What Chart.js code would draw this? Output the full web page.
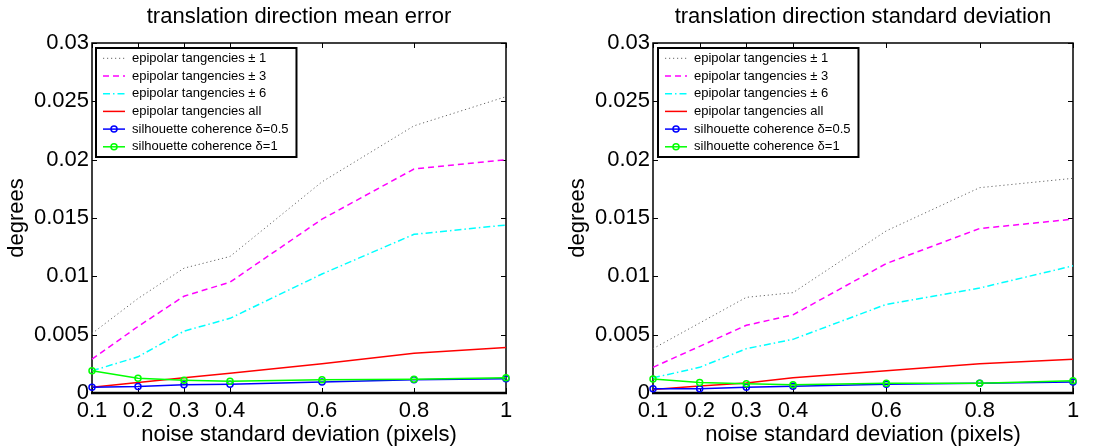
<!DOCTYPE html>
<html>
<head>
<meta charset="utf-8">
<script src="https://cdn.jsdelivr.net/npm/chart.js@4.4.1/dist/chart.umd.min.js"></script>
<style>
html, body { margin: 0; padding: 0; background: #fff; }
.panel { position: absolute; top: 0; }
</style>
</head>
<body>
<div class="panel" style="left:0"><canvas id="meanChart" width="555" height="448"></canvas></div>
<div class="panel" style="left:555px"><canvas id="stdChart" width="556" height="448"></canvas></div>
<script>
const noiseLevels = [0.1, 0.2, 0.3, 0.4, 0.6, 0.8, 1];
const xTickValues = [0.1, 0.2, 0.3, 0.4, 0.6, 0.8, 1];
const xTickLabels = ['0.1', '0.2', '0.3', '0.4', '0.6', '0.8', '1'];
const yTickValues = [0, 0.005, 0.01, 0.015, 0.02, 0.025, 0.03];
const yTickLabels = ['0', '0.005', '0.01', '0.015', '0.02', '0.025', '0.03'];
const seriesNames = [
    'epipolar tangencies \u00b1 1',
    'epipolar tangencies \u00b1 3',
    'epipolar tangencies \u00b1 6',
    'epipolar tangencies all',
    'silhouette coherence \u03b4=0.5',
    'silhouette coherence \u03b4=1'
];

// mean error panel
const meanTang1   = [0.0051, 0.0081, 0.0107, 0.0117, 0.0181, 0.0229, 0.0254];
const meanTang3   = [0.0029, 0.0057, 0.0083, 0.0095, 0.0149, 0.0192, 0.0200];
const meanTang6   = [0.0019, 0.0031, 0.0053, 0.0064, 0.0102, 0.0136, 0.0144];
const meanTangAll = [0.0005, 0.0009, 0.0013, 0.0017, 0.0025, 0.0034, 0.0039];
const meanSil05   = [0.0005, 0.00055, 0.0007, 0.00075, 0.00094, 0.00114, 0.00123];
const meanSil1    = [0.0019, 0.00126, 0.0011, 0.0010, 0.00114, 0.00117, 0.0013];

// standard deviation panel
const stdTang1   = [0.0038, 0.0060, 0.0082, 0.0086, 0.0139, 0.0176, 0.0184];
const stdTang3   = [0.0022, 0.0040, 0.0058, 0.0067, 0.0111, 0.0141, 0.0149];
const stdTang6   = [0.0013, 0.0022, 0.0038, 0.0046, 0.0076, 0.0090, 0.0109];
const stdTangAll = [0.0003, 0.0006, 0.00086, 0.0013, 0.0019, 0.0025, 0.0029];
const stdSil05   = [0.00037, 0.00037, 0.0005, 0.00057, 0.00074, 0.00083, 0.00094];
const stdSil1    = [0.0012, 0.0009, 0.0008, 0.0007, 0.00083, 0.00083, 0.00106];

Chart.defaults.font.family = '"Liberation Sans", Arial, Helvetica, sans-serif';
Chart.defaults.color = '#000';

const matlabFrame = {
    id: 'matlabFrame',
    beforeDatasetsDraw(chart) {
        const {ctx, chartArea: a, scales: {x, y}} = chart;
        ctx.save();
        ctx.strokeStyle = '#000';
        ctx.lineWidth = 1;
        ctx.beginPath();
        x.ticks.forEach(t => {
            const px = Math.round(x.getPixelForValue(t.value)) + 0.5;
            ctx.moveTo(px, a.bottom); ctx.lineTo(px, a.bottom - 5);
            ctx.moveTo(px, a.top); ctx.lineTo(px, a.top + 5);
        });
        y.ticks.forEach(t => {
            const py = Math.round(y.getPixelForValue(t.value)) + 0.5;
            ctx.moveTo(a.left, py); ctx.lineTo(a.left + 5, py);
            ctx.moveTo(a.right, py); ctx.lineTo(a.right - 5, py);
        });
        ctx.stroke();
        ctx.lineWidth = 1.5;
        ctx.strokeRect(a.left, a.top, a.right - a.left, a.bottom - a.top);
        ctx.lineWidth = 2.5;
        ctx.beginPath();
        ctx.moveTo(a.left - 1, a.bottom);
        ctx.lineTo(a.right + 1, a.bottom);
        ctx.stroke();
        ctx.restore();
    }
};

const boxLegend = {
    id: 'boxLegend',
    afterDatasetsDraw(chart, args, opts) {
        const {ctx, chartArea: a} = chart;
        const sets = chart.data.datasets;
        ctx.save();
        ctx.font = '13px "Liberation Sans", Arial, sans-serif';
        const textW = Math.max(...sets.map(d => ctx.measureText(d.label).width));
        const bx = a.left + opts.offsetX, by = a.top + 5;
        const bw = 36 + textW + 8, bh = 109;
        ctx.fillStyle = '#fff';
        ctx.fillRect(bx, by, bw, bh);
        ctx.strokeStyle = '#000';
        ctx.lineWidth = 2;
        ctx.strokeRect(bx, by, bw, bh);
        sets.forEach((d, i) => {
            const ry = by + 10.3 + i * 17.7;
            ctx.save();
            ctx.strokeStyle = d.borderColor;
            ctx.lineWidth = d.borderWidth;
            ctx.setLineDash(d.borderDash || []);
            ctx.beginPath();
            ctx.moveTo(bx + 7, ry);
            ctx.lineTo(bx + 29, ry);
            ctx.stroke();
            if (d.pointRadius) {
                ctx.setLineDash([]);
                ctx.lineWidth = d.pointBorderWidth;
                ctx.beginPath();
                ctx.arc(bx + 18, ry, d.pointRadius, 0, Math.PI * 2);
                ctx.stroke();
            }
            ctx.restore();
            ctx.fillStyle = '#000';
            ctx.textBaseline = 'middle';
            ctx.fillText(d.label, bx + 36, ry);
        });
        ctx.restore();
    }
};

function points(vals) {
    return noiseLevels.map((x, i) => ({x: x, y: vals[i]}));
}

function makeSets(series) {
    const styles = [
        {borderColor: '#666666', borderWidth: 1, borderDash: [1.2, 2.8]},
        {borderColor: '#ff00ff', borderWidth: 1.5, borderDash: [6, 4]},
        {borderColor: '#00ffff', borderWidth: 1.5, borderDash: [7, 3, 1.5, 3]},
        {borderColor: '#ff0000', borderWidth: 1.5},
        {borderColor: '#0000ff', borderWidth: 1.5, pointRadius: 3, pointBorderWidth: 1.5},
        {borderColor: '#00ff00', borderWidth: 1.5, pointRadius: 3, pointBorderWidth: 1.5}
    ];
    return series.map((vals, i) => Object.assign({
        label: seriesNames[i],
        data: points(vals),
        pointRadius: 0,
        pointBackgroundColor: 'rgba(0,0,0,0)',
        tension: 0,
        clip: false,
        order: series.length - i
    }, styles[i], {pointBorderColor: styles[i].borderColor}));
}

function makeChart(id, title, series, geo) {
    return new Chart(document.getElementById(id), {
        type: 'line',
        data: {datasets: makeSets(series)},
        plugins: [matlabFrame, boxLegend],
        options: {
            responsive: false,
            animation: false,
            events: [],
            layout: {padding: {left: 0, top: 0, bottom: 0, right: geo.padRight}},
            plugins: {
                legend: {display: false},
                tooltip: {enabled: false},
                title: {
                    display: true,
                    text: title,
                    fullSize: false,
                    color: '#000',
                    font: {size: 22, weight: 'normal'},
                    padding: {top: 4.2, bottom: 12.4}
                },
                boxLegend: {offsetX: geo.legendX}
            },
            scales: {
                x: {
                    type: 'linear',
                    min: 0.1,
                    max: 1,
                    grid: {display: false, drawTicks: false},
                    border: {display: false},
                    afterBuildTicks: s => { s.ticks = xTickValues.map(v => ({value: v})); },
                    afterFit: s => { s.height = 55; },
                    ticks: {
                        padding: 5,
                        autoSkip: false,
                        maxRotation: 0,
                        font: {size: 22},
                        callback: (v, i) => xTickLabels[i]
                    },
                    title: {
                        display: true,
                        text: 'noise standard deviation (pixels)',
                        font: {size: 22},
                        padding: {top: 0, bottom: 0.2}
                    }
                },
                y: {
                    type: 'linear',
                    min: 0,
                    max: 0.03,
                    grid: {display: false, drawTicks: false},
                    border: {display: false},
                    afterBuildTicks: s => { s.ticks = yTickValues.map(v => ({value: v})); },
                    afterFit: s => { s.width = geo.plotLeft; },
                    ticks: {
                        padding: 3,
                        autoSkip: false,
                        font: {size: 22},
                        callback: (v, i) => yTickLabels[i]
                    },
                    title: {
                        display: true,
                        text: 'degrees',
                        font: {size: 22},
                        padding: {top: geo.yTitlePad, bottom: 0}
                    }
                }
            }
        }
    });
}

makeChart('meanChart', 'translation direction mean error',
    [meanTang1, meanTang3, meanTang6, meanTangAll, meanSil05, meanSil1],
    {plotLeft: 92, padRight: 49, yTitlePad: 4, legendX: 4});

makeChart('stdChart', 'translation direction standard deviation',
    [stdTang1, stdTang3, stdTang6, stdTangAll, stdSil05, stdSil1],
    {plotLeft: 98, padRight: 38, yTitlePad: 9.5, legendX: 5});
</script>
</body>
</html>
